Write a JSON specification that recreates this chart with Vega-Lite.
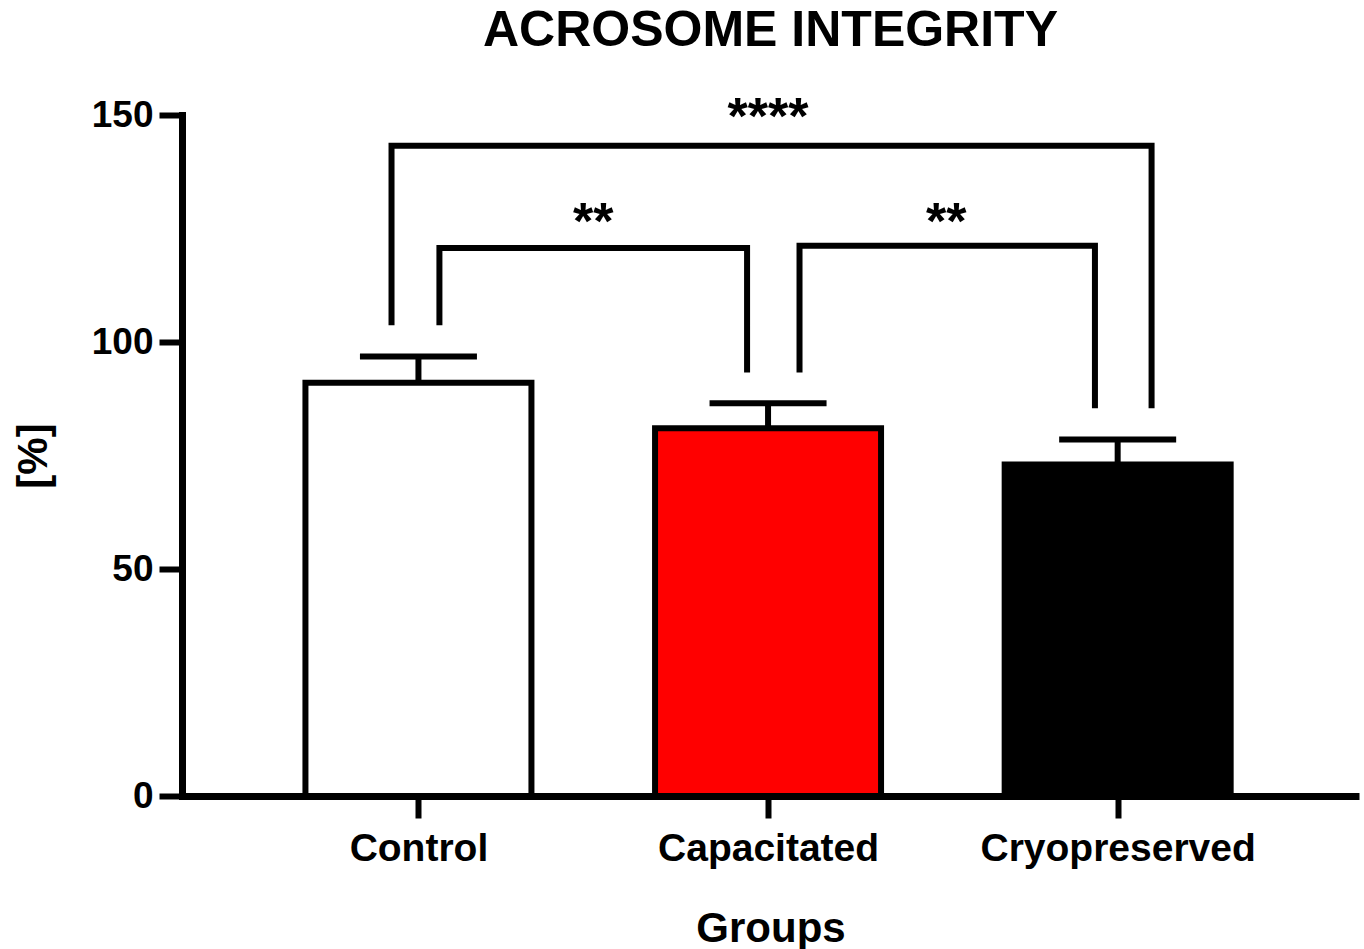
{
  "$schema": "https://vega.github.io/schema/vega-lite/v6.json",
  "width": 1364,
  "height": 949,
  "autosize": {"type": "fit", "contains": "padding"},
  "padding": {"left": 12, "top": 10, "right": 5, "bottom": 0},
  "background": "white",
  "title": {"text": "ACROSOME INTEGRITY", "fontSize": 50, "fontWeight": "bold", "anchor": "middle", "offset": 36, "color": "black", "font": "Liberation Sans"},
  "datasets": {
    "bars": [
      {"group": "Control", "idx": 1, "mean": 91.0, "upper": 96.8},
      {"group": "Capacitated", "idx": 2, "mean": 81.0, "upper": 86.5},
      {"group": "Cryopreserved", "idx": 3, "mean": 73.0, "upper": 78.5}
    ],
    "brackets": [
      {"bracket": "Control-Capacitated", "ord": 1, "x": 1.06, "y": 103.7},
      {"bracket": "Control-Capacitated", "ord": 2, "x": 1.06, "y": 120.7},
      {"bracket": "Control-Capacitated", "ord": 3, "x": 1.94, "y": 120.7},
      {"bracket": "Control-Capacitated", "ord": 4, "x": 1.94, "y": 93.3},
      {"bracket": "Capacitated-Cryopreserved", "ord": 1, "x": 2.09, "y": 93.3},
      {"bracket": "Capacitated-Cryopreserved", "ord": 2, "x": 2.09, "y": 121.2},
      {"bracket": "Capacitated-Cryopreserved", "ord": 3, "x": 2.935, "y": 121.2},
      {"bracket": "Capacitated-Cryopreserved", "ord": 4, "x": 2.935, "y": 85.4},
      {"bracket": "Control-Cryopreserved", "ord": 1, "x": 0.923, "y": 103.7},
      {"bracket": "Control-Cryopreserved", "ord": 2, "x": 0.923, "y": 143.2},
      {"bracket": "Control-Cryopreserved", "ord": 3, "x": 3.097, "y": 143.2},
      {"bracket": "Control-Cryopreserved", "ord": 4, "x": 3.097, "y": 85.4}
    ],
    "stars": [
      {"label": "**", "x": 1.5, "y": 122.7},
      {"label": "**", "x": 2.51, "y": 122.7},
      {"label": "****", "x": 2.0, "y": 145.8}
    ]
  },
  "layer": [
    {
      "data": {"name": "bars"},
      "mark": {"type": "bar", "size": 226, "stroke": "black", "strokeWidth": 6},
      "encoding": {
        "x": {
          "field": "idx", "type": "quantitative", "title": "Groups",
          "scale": {"domain": [0.338, 3.676], "nice": false, "zero": false},
          "axis": {
            "values": [1, 2, 3],
            "labelExpr": "datum.value == 1 ? 'Control' : datum.value == 2 ? 'Capacitated' : 'Cryopreserved'",
            "labelLimit": 0
          }
        },
        "y": {
          "field": "mean", "type": "quantitative", "title": "[%]",
          "scale": {"domain": [0, 150], "nice": false},
          "axis": {"values": [0, 50, 100, 150]}
        },
        "color": {"field": "group", "type": "nominal", "legend": null, "scale": {"domain": ["Control", "Capacitated", "Cryopreserved"], "range": ["#ffffff", "#ff0000", "#000000"]}}
      }
    },
    {
      "data": {"name": "bars"},
      "mark": {"type": "rule", "color": "black", "strokeWidth": 6},
      "encoding": {
        "x": {"field": "idx", "type": "quantitative", "title": "Groups"},
        "y": {"field": "mean", "type": "quantitative", "title": "[%]"},
        "y2": {"field": "upper"}
      }
    },
    {
      "data": {"name": "bars"},
      "mark": {"type": "tick", "orient": "horizontal", "size": 117, "thickness": 6, "color": "black", "opacity": 1},
      "encoding": {
        "x": {"field": "idx", "type": "quantitative", "title": "Groups"},
        "y": {"field": "upper", "type": "quantitative", "title": "[%]"}
      }
    },
    {
      "data": {"name": "brackets"},
      "mark": {"type": "line", "color": "black", "strokeWidth": 6, "strokeJoin": "miter", "strokeCap": "butt"},
      "encoding": {
        "x": {"field": "x", "type": "quantitative", "title": "Groups"},
        "y": {"field": "y", "type": "quantitative", "title": "[%]"},
        "detail": {"field": "bracket"},
        "order": {"field": "ord", "type": "quantitative"}
      }
    },
    {
      "data": {"name": "stars"},
      "mark": {"type": "text", "fontSize": 52, "fontWeight": "bold", "font": "Liberation Sans", "align": "center", "baseline": "alphabetic", "color": "black"},
      "encoding": {
        "x": {"field": "x", "type": "quantitative", "title": "Groups"},
        "y": {"field": "y", "type": "quantitative", "title": "[%]"},
        "text": {"field": "label"}
      }
    }
  ],
  "config": {
    "view": {"stroke": null},
    "font": "Liberation Sans",
    "axisX": {
      "grid": false,
      "tickSize": 22,
      "tickWidth": 6,
      "tickColor": "black",
      "domainWidth": 7,
      "domainColor": "black",
      "labelColor": "black",
      "labelFontSize": 39,
      "labelFontWeight": "bold",
      "labelPadding": 11,
      "labelFlush": false,
      "titleFontSize": 42,
      "titleFontWeight": "bold",
      "titleColor": "black",
      "titlePadding": 40
    },
    "axisY": {
      "grid": false,
      "tickSize": 23,
      "tickWidth": 6,
      "tickColor": "black",
      "domainWidth": 7,
      "domainColor": "black",
      "domainCap": "square",
      "labelColor": "black",
      "labelFontSize": 37,
      "labelFontWeight": "bold",
      "labelPadding": 6,
      "titleFontSize": 42,
      "titleFontWeight": "bold",
      "titleColor": "black",
      "titlePadding": 36
    }
  }
}
